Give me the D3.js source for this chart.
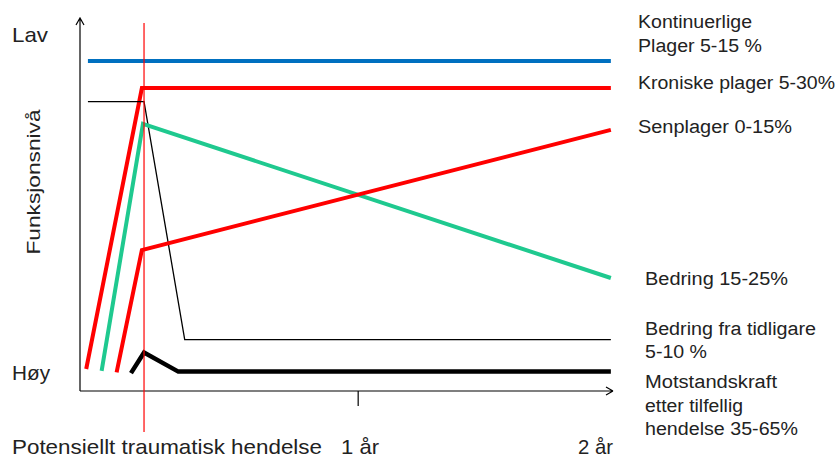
<!DOCTYPE html>
<meta charset="utf-8">
<title>Funksjonsnivå etter traumatisk hendelse</title>
<style>
  body { margin: 0; background: #fff; }
  svg { display: block; font-family: "Liberation Sans", Arial, sans-serif; }
  .axis-line { stroke: #000; stroke-width: 1.2px; fill: none; }
  .series { fill: none; stroke-linejoin: miter; stroke-linecap: butt; }
  .lbl { font-size: 18px; fill: #222; }
  .big { font-size: 21px; fill: #222; }
</style>
<body>
<script src="https://cdn.jsdelivr.net/npm/d3@7"></script>
<script>
  const W = 839, H = 457;

  // time in years (0 = the event), level 0 = Høy .. 100 = Lav
  const kontinuerlige = [[-0.262, 88.5], [2.18, 88.5]];
  const kroniske = [[-0.27, 5.9], [-0.01, 81.2], [2.18, 81.2]];
  const tidligare = [[-0.262, 77.6], [0, 77.6], [0.19, 13.8], [2.18, 13.8]];
  const bedring = [[-0.198, 5.4], [-0.005, 71.6], [2.18, 30.3]];
  const senplager = [[-0.128, 5.0], [-0.01, 37.8], [2.18, 70.0]];
  const motstand = [[-0.061, 4.8], [0, 10.3], [0.16, 5.2], [2.18, 5.2]];

  const seriesColors = ['#0070c0', '#ff0000', '#000000', '#1fc98f', '#ff0000', '#000000'];
  const seriesWidths = [4, 4, 1.3, 4, 4, 4.5];

  const labelLines = [
    ['Kontinuerlige', 'Plager  5-15 %'],
    ['Kroniske plager 5-30%'],
    ['Senplager 0-15%'],
    ['Bedring 15-25%'],
    ['Bedring  fra tidligare', '5-10 %'],
    ['Motstandskraft', 'etter tilfellig', 'hendelse 35-65%']
  ];

  const xTicks = [1];
  const xTickLabels = ['Potensiellt traumatisk hendelse', '1 år', '2 år'];
  const yLabels = ['Lav', 'Høy'];
  const yTitle = 'Funksjonsnivå';

  // layout of the text blocks: left x, first baseline, line step, widths
  const labelX = [638, 638, 638, 645, 645, 645];
  const labelBase = [28, 89, 133, 285, 335, 388];
  const labelStep = [24, 0, 0, 0, 23, 23.5];
  const labelWidths = [[114, 124], [197], [154], [143], [171, 62], [132, 98, 153]];

  const x = d3.scaleLinear().domain([-0.299, 2.19]).range([80, 613]);
  const y = d3.scaleLinear().domain([0, 100]).range([391, 18]);

  const svg = d3.select('body').append('svg').attr('width', W).attr('height', H);

  // axes with arrow heads
  const x0 = x.range()[0], x1 = x.range()[1], y0 = y.range()[0], y1 = y.range()[1];
  svg.append('path').attr('class', 'axis-line')
    .attr('d', `M${x0},${y0}V${y1}M${x0 - 4},${y1 + 7}L${x0},${y1}L${x0 + 4},${y1 + 7}`);
  svg.append('path').attr('class', 'axis-line')
    .attr('d', `M${x0},${y0}H${x1}M${x1 - 7},${y0 - 4}L${x1},${y0}M${x1 - 7},${y0 + 4}L${x1},${y0}`);
  svg.selectAll('.tick').data(xTicks).enter().append('line')
    .attr('class', 'axis-line')
    .attr('x1', d => x(d)).attr('x2', d => x(d))
    .attr('y1', y0).attr('y2', y0 + 15);

  const line = d3.line().x(d => x(d[0])).y(d => y(d[1]));
  const all = [kontinuerlige, kroniske, tidligare, bedring, senplager, motstand];
  svg.selectAll('.series').data(all).enter().append('path')
    .attr('class', 'series')
    .attr('d', line)
    .attr('stroke', (d, i) => seriesColors[i])
    .attr('stroke-width', (d, i) => seriesWidths[i]);

  // event marker
  svg.append('line')
    .attr('x1', x(0)).attr('x2', x(0))
    .attr('y1', 23).attr('y2', 432)
    .attr('stroke', '#ff0000').attr('stroke-width', 1.2);

  // right labels
  labelLines.forEach((lines, i) => {
    lines.forEach((s, j) => {
      svg.append('text').attr('class', 'lbl')
        .attr('x', labelX[i])
        .attr('y', labelBase[i] + j * labelStep[i])
        .attr('textLength', labelWidths[i][j])
        .attr('lengthAdjust', 'spacingAndGlyphs')
        .text(s);
    });
  });

  function big(txt, px, py, len) {
    return svg.append('text').attr('class', 'big')
      .attr('x', px).attr('y', py)
      .attr('textLength', len).attr('lengthAdjust', 'spacingAndGlyphs')
      .text(txt);
  }

  // left labels
  big(yLabels[0], 12, 41.5, 36);
  big(yLabels[1], 12, 380, 38);
  svg.append('text').attr('class', 'big')
    .attr('transform', 'translate(40,182) rotate(-90)')
    .attr('text-anchor', 'middle').style('font-size', '19px')
    .attr('textLength', 145).attr('lengthAdjust', 'spacingAndGlyphs')
    .text(yTitle);

  // bottom labels
  big(xTickLabels[0], 12, 454, 310);
  big(xTickLabels[1], 341, 454, 38);
  big(xTickLabels[2], 578, 454, 35);
</script>
</body>
